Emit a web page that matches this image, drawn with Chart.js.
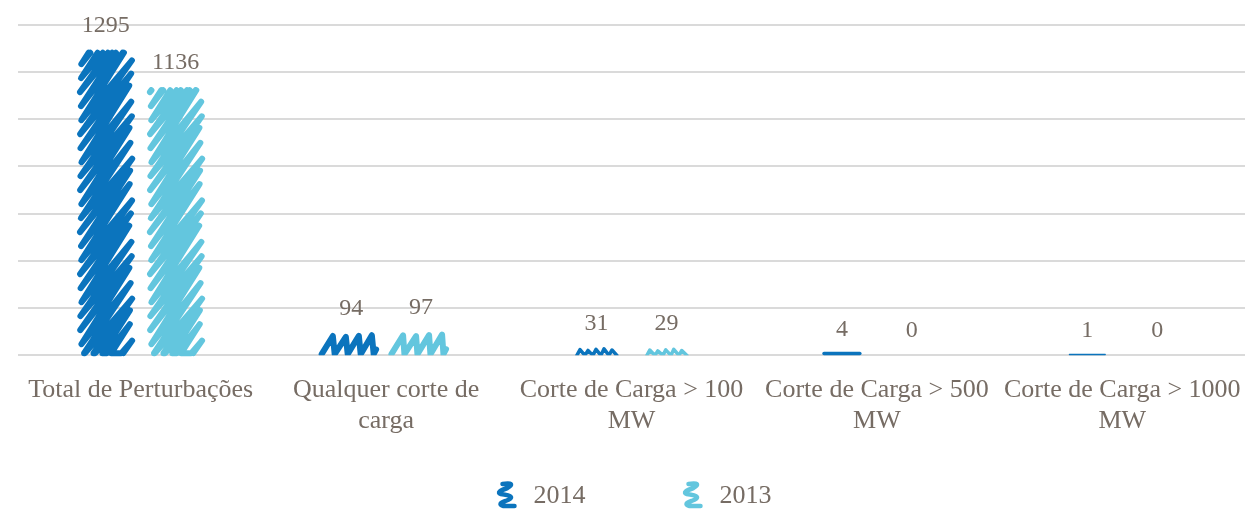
<!DOCTYPE html>
<html>
<head>
<meta charset="utf-8">
<script src="https://cdn.jsdelivr.net/npm/chart.js@4.4.1/dist/chart.umd.min.js"></script>
<style>
html,body{margin:0;padding:0;background:#fff}
#wrap{width:1245px;height:509px}
</style>
</head>
<body>
<div id="wrap"><canvas id="chart"></canvas></div>
<script>
// chart data
const categories=[["Total de Perturbações"],["Qualquer corte de","carga"],["Corte de Carga > 100","MW"],["Corte de Carga > 500","MW"],["Corte de Carga > 1000","MW"]]
const years=["2014","2013"]
const values2014=[1295,94,31,4,1]
const values2013=[1136,97,29,0,0]
const yTicks={min:0,max:1400,step:200}

const colors=["#0b74bd","#63c6de"]
const textColor="#766c64"
const serif="'Liberation Serif', 'DejaVu Serif', serif"

// cut a segment to the horizontal band T..B
function clipSeg(p,q,T,B){
  const dy=q[1]-p[1]
  let t0=0,t1=1
  if(Math.abs(dy)<1e-9){
    if(p[1]<T||p[1]>B) return null
  }else{
    let a=(T-p[1])/dy,b=(B-p[1])/dy
    if(a>b){const c=a;a=b;b=c}
    t0=Math.max(0,a);t1=Math.min(1,b)
    if(t0>=t1) return null
  }
  const at=t=>[p[0]+(q[0]-p[0])*t,p[1]+dy*t]
  return [at(t0),at(t1)]
}

// scribbled fill inside a bar rectangle
function scribble(ctx,x0,x1,top,bottom,color){
  let w=x1-x0
  const h=bottom-top
  if(h<=0.05) return
  ctx.save()
  ctx.strokeStyle=color
  ctx.lineCap="round"
  ctx.lineJoin="round"
  if(h<3){
    ctx.lineWidth=h>0.5?3.5:1.3
    const cx=(x0+x1)/2,half=w*0.32
    ctx.beginPath()
    ctx.moveTo(cx-half,bottom-ctx.lineWidth/2)
    ctx.lineTo(cx+half,bottom-ctx.lineWidth/2)
    ctx.stroke()
    ctx.restore()
    return
  }
  if(h<12){
    const cx=(x0+x1)/2
    w=w*0.72
    x0=cx-w/2
    x1=cx+w/2
  }
  const lw=h<12?3.5:6
  ctx.lineWidth=lw
  const L=x0+lw/2,R=x1-lw/2,T=top+lw/2,B=bottom-lw/2+1
  let i=0
  if(h>=w){
    // zigzag bouncing between the side edges, cut at top and bottom
    const d=(R-L)*1.5,s=14
    const pts=[]
    let y=B+d
    while(y>T-s){
      const wob=Math.sin(i*1.9)*1.5
      pts.push([L-wob*0.5,y])
      pts.push([R+wob,y-d+wob])
      y-=s
      i++
    }
    ctx.beginPath()
    let last=null
    for(let k=1;k<pts.length;k++){
      const c=clipSeg(pts[k-1],pts[k],T,B)
      if(!c) continue
      const far=!last||Math.hypot(c[0][0]-last[0],c[0][1]-last[1])>0.5
      if(far&&last&&c[0][1]>T+1) ctx.lineTo(c[0][0],c[0][1])
      else if(far) ctx.moveTo(c[0][0],c[0][1])
      ctx.lineTo(c[1][0],c[1][1])
      last=c[1]
    }
    ctx.stroke()
  }else{
    ctx.beginPath()
    ctx.rect(x0-lw,top-lw,w+2*lw,h+lw)
    ctx.clip()
    ctx.beginPath()
    const k=(B-T)*0.65,s=h<12?8:13
    let x=L-k*0.4
    ctx.moveTo(x,B+1)
    while(true){
      const wob=Math.sin(i*1.7)*0.8
      const xr=x+k
      if(xr>R){
        const t=(R-x)/k
        ctx.lineTo(R,B-(B-T)*t)
        break
      }
      ctx.lineTo(xr,T+wob)
      x+=s
      ctx.lineTo(x,B+1)
      i++
    }
    ctx.stroke()
  }
  ctx.restore()
}

// spring-like legend mark
function legendMark(ctx,x,y,color){
  ctx.save()
  ctx.strokeStyle=color
  ctx.lineWidth=4.5
  ctx.lineCap="round"
  ctx.lineJoin="round"
  ctx.beginPath()
  ctx.moveTo(x+8,y-11)
  ctx.quadraticCurveTo(x+22,y-13,x+13,y-7)
  ctx.quadraticCurveTo(x+1,y-3,x+6,y-1)
  ctx.quadraticCurveTo(x+24,y+1,x+11,y+6)
  ctx.quadraticCurveTo(x+2,y+9,x+9,y+11)
  ctx.lineTo(x+20,y+11)
  ctx.stroke()
  ctx.restore()
}

const scribblePlugin={
  id:"scribble",
  afterDatasetsDraw(chart){
    const ctx=chart.ctx
    const yScale=chart.scales.y
    const zero=yScale.getPixelForValue(0)
    chart.data.datasets.forEach((ds,di)=>{
      const meta=chart.getDatasetMeta(di)
      meta.data.forEach((bar,j)=>{
        const p=bar.getProps(["x","width"],true)
        const top=yScale.getPixelForValue(ds.data[j])
        scribble(ctx,p.x-p.width/2,p.x+p.width/2,top,zero,colors[di])
        ctx.save()
        ctx.fillStyle=textColor
        ctx.font="24px "+serif
        ctx.textAlign="center"
        ctx.textBaseline="alphabetic"
        ctx.fillText(String(ds.data[j]),p.x,top-18)
        ctx.restore()
      })
    })
  },
  afterDraw(chart){
    const ctx=chart.ctx
    ctx.save()
    ctx.font="26px "+serif
    const markW=24,gapText=15,gapItem=95
    const widths=years.map(y=>ctx.measureText(y).width)
    const total=widths.reduce((a,b)=>a+b,0)+years.length*(markW+gapText)+gapItem*(years.length-1)
    let x=633-total/2
    const y=495
    years.forEach((yr,i)=>{
      legendMark(ctx,x,y,colors[i])
      ctx.fillStyle=textColor
      ctx.textBaseline="middle"
      ctx.textAlign="left"
      ctx.fillText(yr,x+markW+gapText,y+1)
      x+=markW+gapText+widths[i]+gapItem
    })
    ctx.restore()
  }
}

new Chart(document.getElementById("chart"),{
  type:"bar",
  data:{
    labels:categories,
    datasets:[
      {label:years[0],data:values2014,backgroundColor:"rgba(0,0,0,0)",borderWidth:0},
      {label:years[1],data:values2013,backgroundColor:"rgba(0,0,0,0)",borderWidth:0}
    ]
  },
  options:{
    responsive:true,
    maintainAspectRatio:false,
    animation:false,
    layout:{padding:{left:18,right:-4,top:25,bottom:73}},
    datasets:{bar:{categoryPercentage:0.57,barPercentage:0.8}},
    plugins:{legend:{display:false},tooltip:{enabled:false}},
    scales:{
      x:{
        grid:{display:false,tickLength:20},
        border:{display:false},
        ticks:{color:textColor,font:{family:serif,size:26,lineHeight:1.17},padding:0,maxRotation:0,autoSkip:false}
      },
      y:{
        min:yTicks.min,max:yTicks.max,
        ticks:{display:false,stepSize:yTicks.step},
        grid:{color:"#dadada",lineWidth:2,drawTicks:false},
        border:{display:false}
      }
    }
  },
  plugins:[scribblePlugin]
})
</script>
</body>
</html>
